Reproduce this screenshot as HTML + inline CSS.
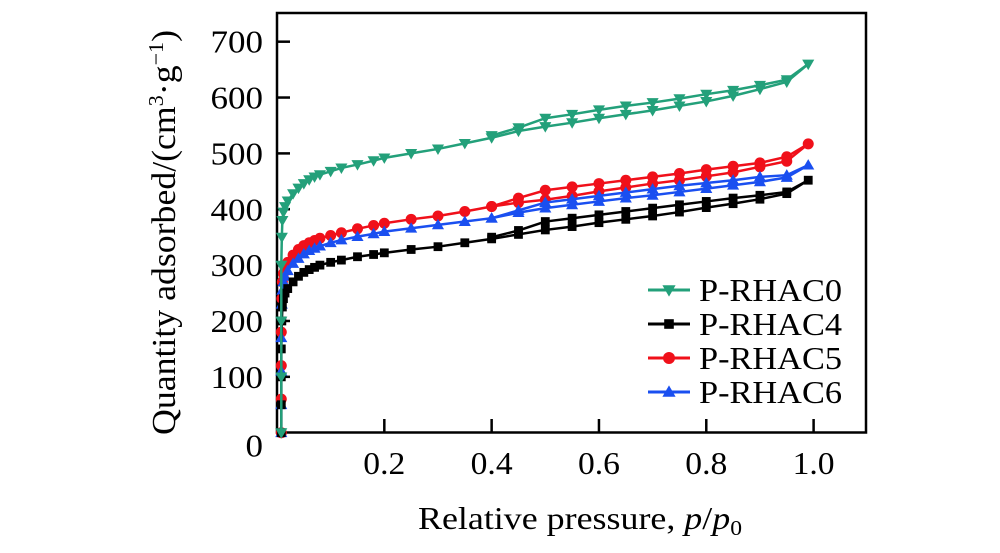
<!DOCTYPE html>
<html><head><meta charset="utf-8"><style>
html,body{margin:0;padding:0;background:#fff;}
svg{display:block;font-family:"Liberation Serif",serif;}
</style></head><body>
<svg id="chart" width="1000" height="553" viewBox="0 0 1000 553">
<rect x="277" y="13" width="589" height="419.5" fill="none" stroke="#000" stroke-width="2.5"/>
<g id="ticks"></g>
<g id="series"></g>
<g id="legend"></g>
<text x="418" y="529" font-size="32" textLength="324" lengthAdjust="spacingAndGlyphs">Relative pressure, <tspan font-style="italic">p</tspan>/<tspan font-style="italic">p</tspan><tspan font-size="21" dy="6">0</tspan></text>
<text transform="translate(175,435) rotate(-90)" font-size="34" textLength="405" lengthAdjust="spacingAndGlyphs">Quantity adsorbed/(cm<tspan font-size="21" dy="-12">3</tspan><tspan dy="12">·g</tspan><tspan font-size="21" dy="-12">−1</tspan><tspan dy="12">)</tspan></text>
</svg>
<script>
const xTicks=[0.2,0.4,0.6,0.8,1.0];
const xTickLabels=["0.2","0.4","0.6","0.8","1.0"];
const yTicks=[0,100,200,300,400,500,600,700];
const yTickLabels=["0","100","200","300","400","500","600","700"];
const seriesNames=["P-RHAC0","P-RHAC4","P-RHAC5","P-RHAC6"];
const pAds=[0.008,0.008,0.008,0.008,0.009,0.01,0.012,0.015,0.02,0.03,0.04,0.05,0.06,0.07,0.08,0.1,0.12,0.15,0.18,0.2,0.25,0.3,0.35,0.4,0.45,0.5,0.55,0.6,0.65,0.7,0.75,0.8,0.85,0.9,0.95,0.99];
const pDes=[0.95,0.9,0.85,0.8,0.75,0.7,0.65,0.6,0.55,0.5,0.45,0.4];
const rhac0Ads=[0,100,200,300,350,380,395,405,415,428,438,446,453,458,462,468,474,480,487,492,500,508,518,528,540,548,555,563,570,577,585,593,603,615,628,660];
const rhac0Des=[632,622,613,606,598,591,585,578,570,563,546,532];
const rhac4Ads=[0,50,100,150,200,225,240,250,258,270,280,287,292,296,300,305,309,315,319,322,328,333,340,347,355,363,369,376,382,388,395,403,410,418,428,452];
const rhac4Des=[431,425,420,414,408,402,396,390,384,378,362,350];
const rhac5Ads=[0,60,120,180,240,270,285,295,305,318,328,335,340,344,348,353,358,365,371,375,382,388,396,405,412,417,424,432,439,446,452,459,466,476,486,517];
const rhac5Des=[494,483,477,471,464,458,452,446,440,434,420,405];
const rhac6Ads=[0,50,110,170,230,255,270,280,290,303,312,320,326,330,334,340,345,351,356,360,366,372,378,384,394,402,408,414,420,425,431,437,443,449,457,479];
const rhac6Des=[461,458,452,447,442,436,430,424,418,412,398,384];
const ads=[rhac0Ads,rhac4Ads,rhac5Ads,rhac6Ads];
const des=[rhac0Des,rhac4Des,rhac5Des,rhac6Des];
const colors=["#23a07a","#000000","#f0101a","#1a4ff0"];
const markers=["tdown","square","circle","tup"];
const NS="http://www.w3.org/2000/svg";
const X=v=>277+v*536.6;
const Y=v=>432.7-v*0.5586;
function mk(tag,attrs,parent){const e=document.createElementNS(NS,tag);for(const k in attrs)e.setAttribute(k,attrs[k]);parent.appendChild(e);return e;}
function marker(type,x,y,c,parent,s){
 s=s||5.5;let e;
 if(type==="circle")e=mk("circle",{cx:x,cy:y,r:s,fill:c},parent);
 else if(type==="square")e=mk("rect",{x:x-s*0.8,y:y-s*0.8,width:s*1.6,height:s*1.6,fill:c},parent);
 else if(type==="tup")e=mk("polygon",{points:`${x},${y-s*1.1} ${x-s*1.1},${y+s*0.8} ${x+s*1.1},${y+s*0.8}`,fill:c},parent);
 else e=mk("polygon",{points:`${x},${y+s*1.1} ${x-s*1.1},${y-s*0.8} ${x+s*1.1},${y-s*0.8}`,fill:c},parent);
 return e;
}
const tg=document.getElementById("ticks");
xTicks.forEach((t,i)=>{
 const l=mk("line",{x1:X(t),x2:X(t),y1:432,y2:419,stroke:"#000","stroke-width":2.5},tg);
 
 
 const tx=mk("text",{x:X(t)-21,y:474,"font-size":32,textLength:42,lengthAdjust:"spacingAndGlyphs"},tg);
 tx.textContent=xTickLabels[i];
 
 
});
yTicks.forEach((t,i)=>{
 if(t>0){const l=mk("line",{x1:277,x2:290,y1:Y(t),y2:Y(t),stroke:"#000","stroke-width":2.5},tg);
 
 }
 const yy=t===0?Y(t)+24:Y(t)+11;
 const w=yTickLabels[i].length*17.5;
 const tx=mk("text",{x:263-w,y:yy,"font-size":32,textLength:w,lengthAdjust:"spacingAndGlyphs"},tg);
 tx.textContent=yTickLabels[i];
 
 
});
const sg=document.getElementById("series");
[2,3,1,0].forEach(i=>{
 const g=mk("g",{},sg);
 
 
 const a=pAds.map((p,j)=>[X(p),Y(ads[i][j])]);
 const d=pDes.map((p,j)=>[X(p),Y(des[i][j])]);
 const lastA=a[a.length-1];
 const pl=mk("polyline",{points:a.map(q=>q.join(",")).join(" "),fill:"none",stroke:colors[i],"stroke-width":2.5},g);
 
 
 const pd=mk("polyline",{points:[lastA].concat(d).map(q=>q.join(",")).join(" "),fill:"none",stroke:colors[i],"stroke-width":2.5},g);
 
 
 a.concat(d).forEach(q=>{
  const m=marker(markers[i],q[0],q[1],colors[i],g);
  
  
 });
});
const lg=document.getElementById("legend");
const ly=[290,324,358,392];
seriesNames.forEach((n,i)=>{
 const l=mk("line",{x1:648,x2:690,y1:ly[i],y2:ly[i],stroke:colors[i],"stroke-width":3},lg);
 
 
 const m=marker(markers[i],669,ly[i],colors[i],lg,6);
 
 
 const t=mk("text",{x:699,y:ly[i]+11,"font-size":32,textLength:143,lengthAdjust:"spacingAndGlyphs"},lg);
 t.textContent=n;
 
 
});
</script>
</body></html>
